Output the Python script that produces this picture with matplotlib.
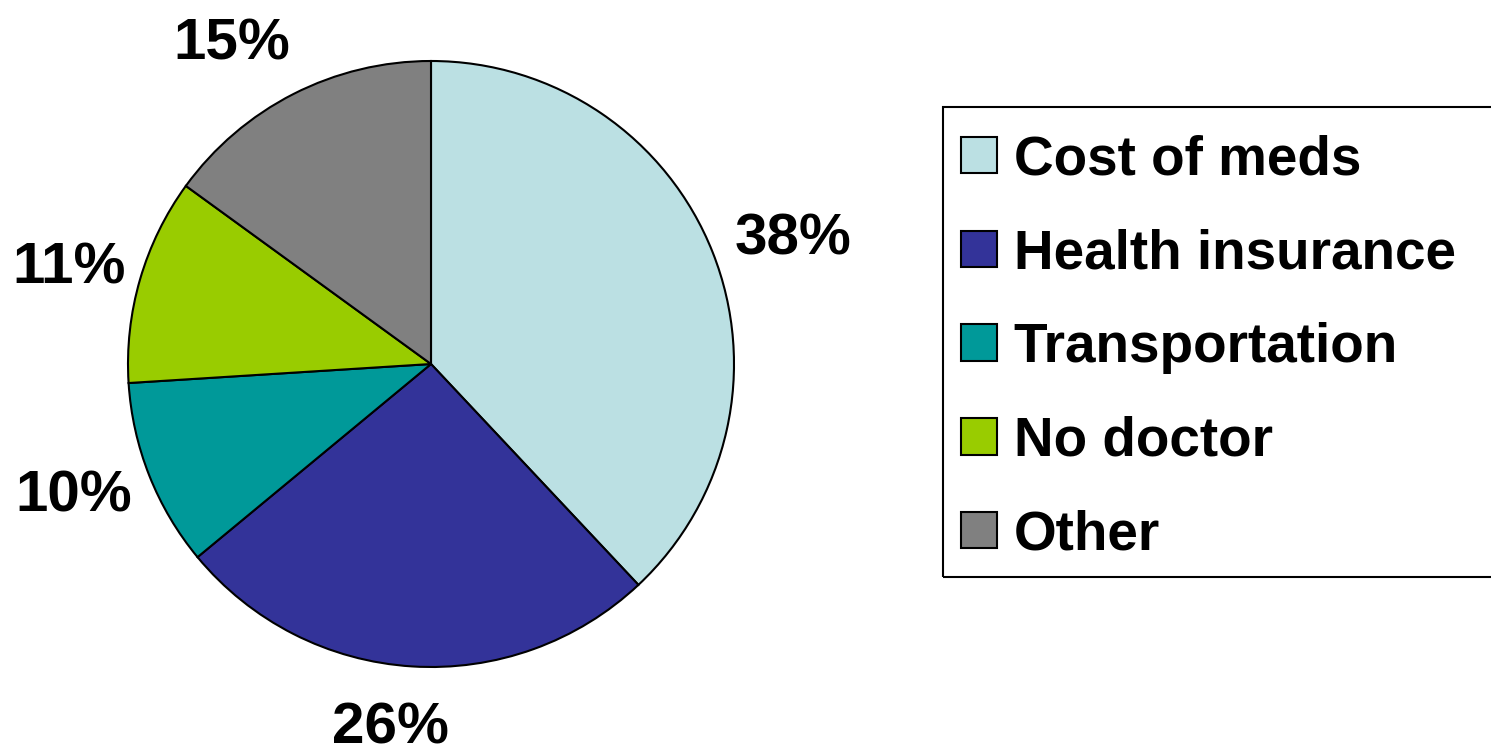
import numpy as np
import matplotlib
matplotlib.use("Agg")
from matplotlib import pyplot as plt
from matplotlib.patches import Rectangle

labels = ["Cost of meds", "Health insurance", "Transportation", "No doctor", "Other"]
values = [38, 26, 10, 11, 15]
colors = ["#BBE0E3", "#333399", "#009999", "#99CC00", "#808080"]

# where the % labels sit: distance from centre (in radii) and a small angle nudge
label_dist = [1.27, 1.19, 1.25, 1.24, 1.26]
label_nudge = [-1.7, -2.9, -2.1, 0.6, 4.4]

plt.rcParams["font.family"] = ["Liberation Sans", "DejaVu Sans"]
plt.rcParams["font.weight"] = "bold"

W, H = 1491, 749
fig = plt.figure(figsize=(W / 100, H / 100), dpi=100)
ax = fig.add_axes([128 / W, 82 / H, 606 / W, 606 / H])

wedges, texts = ax.pie(
    values, colors=colors, startangle=90, counterclock=False,
    wedgeprops=dict(edgecolor="black", linewidth=1.5),
)
for w, v, d, n in zip(wedges, values, label_dist, label_nudge):
    ang = np.deg2rad((w.theta1 + w.theta2) / 2 + n)
    ax.text(d * np.cos(ang), d * np.sin(ang), "{}%".format(v),
            ha="center", va="center_baseline", fontsize=42,
            fontweight="bold", color="black")

ax.set_xlim(-1, 1)
ax.set_ylim(-1, 1)
ax.set_aspect("equal")

# legend entries without its own frame, box drawn separately (runs off the right edge)
leg = fig.legend(wedges, labels, loc="upper left",
                 bbox_to_anchor=(934 / W, 1 - 107 / H),
                 bbox_transform=fig.transFigure, borderaxespad=0,
                 prop=dict(weight="bold", size=39.5),
                 frameon=False, handlelength=0.65, handleheight=0.65,
                 handletextpad=0.3, borderpad=0.5, labelspacing=0.76)
fig.patches.append(Rectangle((943 / W, 1 - 577 / H), 600 / W, 470 / H,
                             transform=fig.transFigure, facecolor="none",
                             edgecolor="black", linewidth=1.5, zorder=0))

plt.savefig("out.png", dpi=100)
